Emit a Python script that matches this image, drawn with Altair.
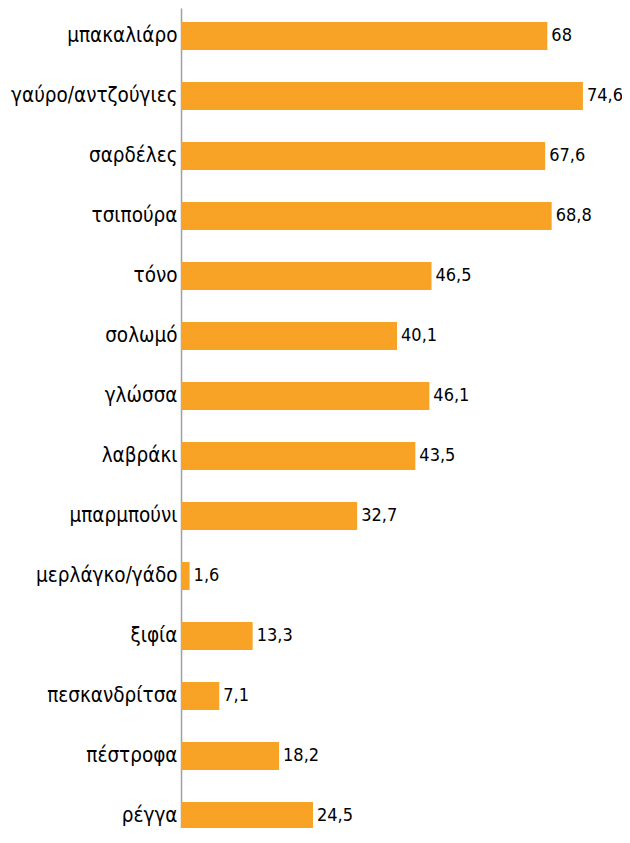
import altair as alt
import pandas as pd

categories = ["μπακαλιάρο", "γαύρο/αντζούγιες", "σαρδέλες", "τσιπούρα", "τόνο",
              "σολωμό", "γλώσσα", "λαβράκι", "μπαρμπούνι", "μερλάγκο/γάδο",
              "ξιφία", "πεσκανδρίτσα", "πέστροφα", "ρέγγα"]
values = [68, 74.6, 67.6, 68.8, 46.5, 40.1, 46.1, 43.5, 32.7, 1.6, 13.3, 7.1, 18.2, 24.5]

df = pd.DataFrame({
    "cat": categories,
    "val": values,
    "lbl": [(f"{v:g}").replace(".", ",") for v in values],
})

FONT = "'Liberation Sans Narrow', 'DejaVu Sans Condensed', 'Liberation Sans'"
COLOR = "#F9A326"

y = alt.Y("cat:N", sort=categories, title=None,
          scale=alt.Scale(range=[0, 836], paddingInner=0.533, paddingOuter=0.233),
          axis=alt.Axis(ticks=False, labelPadding=4, labelFont=FONT, labelFontSize=20.5,
                        labelColor="#000000", domainColor="#A0A0A0", domainWidth=1.5,
                        labelLimit=300))
x = alt.X("val:Q", title=None, scale=alt.Scale(domain=[0, 80], nice=False), axis=None)

bars = alt.Chart(df).mark_bar(color=COLOR).encode(x=x, y=y)
text = alt.Chart(df).mark_text(align="left", baseline="middle", dx=4, font=FONT,
                               fontSize=18, color="#000000").encode(x=x, y=y, text="lbl:N")

chart = (bars + text).properties(
    width=431, height=820,
    autosize=alt.AutoSizeParams(type="none"),
    padding={"left": 173, "top": 0, "right": 10, "bottom": 0},
).configure_view(stroke=None).configure_axis(grid=False)

chart.save("out.html", embed_options={"renderer": "svg", "actions": False})
